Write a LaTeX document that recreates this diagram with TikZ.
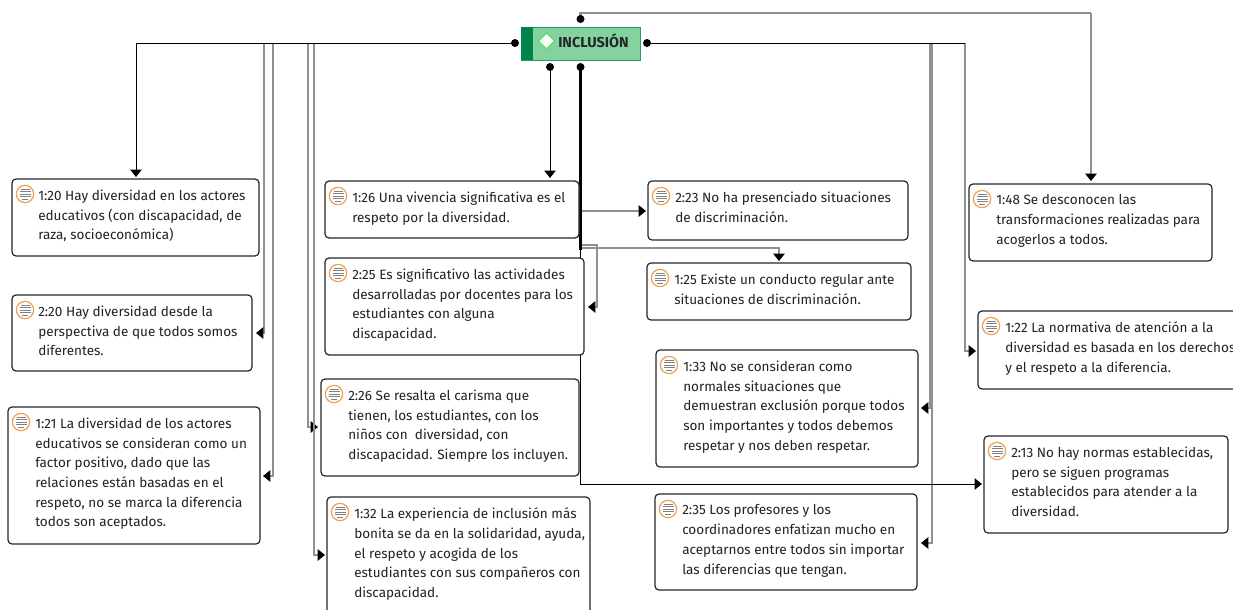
\documentclass[tikz,border=0pt]{standalone}
\usepackage{fontspec}
\setmainfont{Fira Sans}
\usetikzlibrary{arrows.meta,calc}
\definecolor{txt}{HTML}{222222}
\definecolor{grn}{HTML}{84D2A0}
\definecolor{dgrn}{HTML}{00844A}
\definecolor{org}{HTML}{F0A050}
\definecolor{lnk}{HTML}{909090}
\definecolor{iconln}{HTML}{808080}
\tikzset{
  x=0.75pt,y=-0.75pt,
  qbox/.style={draw=black!85,line width=0.9pt,rounded corners=3pt,fill=white},
  qtext/.style={anchor=north west,inner sep=0pt,align=left,text=txt,font=\fontsize{10.15}{14.8}\selectfont},
  ic/.style={circle,draw=org,line width=0.9pt,fill=white,minimum size=13pt,inner sep=0pt},
  dotn/.style={circle,fill=black,minimum size=6pt,inner sep=0pt},
  blk/.style={draw=black,line width=0.7pt},
  gry/.style={draw=lnk,line width=2pt},
  tip/.style={-{Triangle[length=5.5pt,width=8.5pt,black]}},
}
\newcommand{\qnode}[7]{% name x1 y1 x2 y2 (text indent from x1) text
  \draw[qbox] (#2,#3) rectangle (#4,#5);
  \node[ic] (#1i) at (#2+13,#3+15) {};
  \foreach \dy/\w in {-5/4.5,-2.5/5.5,0/5.5,2.5/5.5,5/3}
    \draw[iconln,line width=0.6pt] ($(#1i)+(-\w,\dy)$) -- ($(#1i)+(\w,\dy)$);
  \node[qtext] (#1) at (#2+#6,#3+10.5) {#7};
}
\begin{document}
\begin{tikzpicture}
\useasboundingbox (0,0) rectangle (1233,610);
\clip (0,0) rectangle (1233,610);
\coordinate (dL) at (515,43);
\coordinate (dR) at (647,43);
\coordinate (dT) at (580.5,19);
\coordinate (dB1) at (550,67);
\coordinate (dB2) at (580.5,67);
% connectors
\draw[gry,tip] (264,43) |- (256,333);
\draw[gry,tip] (273,43) |- (263,476);
\draw[gry,tip] (308,43) |- (318,427);
\draw[gry,tip] (314,43) |- (325,555);
\draw[blk,tip] (dL) -| (136,177);
\draw[blk,tip] (dB1) -- (550,178);
\draw[gry,tip] (580.5,211) -- (646,211);
\draw[gry,tip] (580.5,245) -- (597,245) -- (597,307) -- (588,307);
\draw[gry,tip] (580.5,248) -| (779,261);
\draw[gry,tip] (965,43) |- (976,351);
\draw[gry,tip] (930.5,43) |- (921,408);
\draw[gry,tip] (932,43) |- (921,543);
\draw[blk] (dR) -- (965,43);
\draw[gry] (dT) |- (1091,13) coordinate (tt);
\draw[gry,tip] (tt) -- (1091,181);
\draw[blk,tip] (580.5,250) |- (982,484);
\draw[draw=black,line width=1.8pt] (dB2) -- (580.5,250);
% boxes
\qnode{a}{12}{179}{259}{256}{26}{1:20 Hay diversidad en los actores\\educativos (con discapacidad, de\\raza, socioeconómica)}
\qnode{b}{12}{295}{252}{371}{26}{2:20 Hay diversidad desde la\\perspectiva de que todos somos\\diferentes.}
\qnode{c}{8}{407}{260}{544}{27}{1:21 La diversidad de los actores\\educativos se consideran como un\\factor positivo, dado que las\\relaciones están basadas en el\\respeto, no se marca la diferencia\\todos son aceptados.}
\qnode{d}{325}{181}{579}{238}{27}{1:26 Una vivencia significativa es el\\respeto por la diversidad.}
\qnode{e}{325}{258}{584}{355}{27}{2:25 Es significativo las actividades\\desarrolladas por docentes para los\\estudiantes con alguna\\discapacidad.}
\qnode{f}{321}{379}{579}{476}{27}{2:26 Se resalta el carisma que\\tienen, los estudiantes, con los\\niños con\ \ diversidad, con\\discapacidad. Siempre los incluyen.}
\qnode{g}{327}{497}{590}{640}{27}{1:32 La experiencia de inclusión más\\bonita se da en la solidaridad, ayuda,\\el respeto y acogida de los\\estudiantes con sus compañeros con\\discapacidad.}
\qnode{h}{648}{181}{908}{240}{27}{2:23 No ha presenciado situaciones\\de discriminación.}
\qnode{i}{647}{263}{911}{320}{27}{1:25 Existe un conducto regular ante\\situaciones de discriminación.}
\qnode{j}{656}{350}{918}{467}{27}{1:33 No se consideran como\\normales situaciones que\\demuestran exclusión porque todos\\son importantes y todos debemos\\respetar y nos deben respetar.}
\qnode{k}{655}{494}{917}{590}{27}{2:35 Los profesores y los\\coordinadores enfatizan mucho en\\aceptarnos entre todos sin importar\\las diferencias que tengan.}
\qnode{l}{969}{184}{1212}{261}{27}{1:48 Se desconocen las\\transformaciones realizadas para\\acogerlos a todos.}
\qnode{m}{978}{311}{1260}{389}{27}{1:22 La normativa de atención a la\\diversidad es basada en los derechos\\y el respeto a la diferencia.}
\qnode{n}{984}{436}{1228}{533}{27}{2:13 No hay normas establecidas,\\pero se siguen programas\\establecidos para atender a la\\diversidad.}
% root
\draw[draw=dgrn!70!grn,fill=grn,line width=0.5pt] (521,27) rectangle (640,60);
\fill[dgrn] (521,27) rectangle (533,60);
\draw[draw=grn!60!green,fill=white,line width=0.8pt] (538.5,41)--(546.5,33)--(554.5,41)--(546.5,49)--cycle;
\node[anchor=west,inner sep=0pt,font=\fontsize{10.8}{12}\selectfont\bfseries,text=black!85] (root) at (558,41) {INCLUSIÓN};
\foreach \c in {dL,dR,dT,dB1,dB2} \node[dotn] at (\c) {};
\end{tikzpicture}
\end{document}
